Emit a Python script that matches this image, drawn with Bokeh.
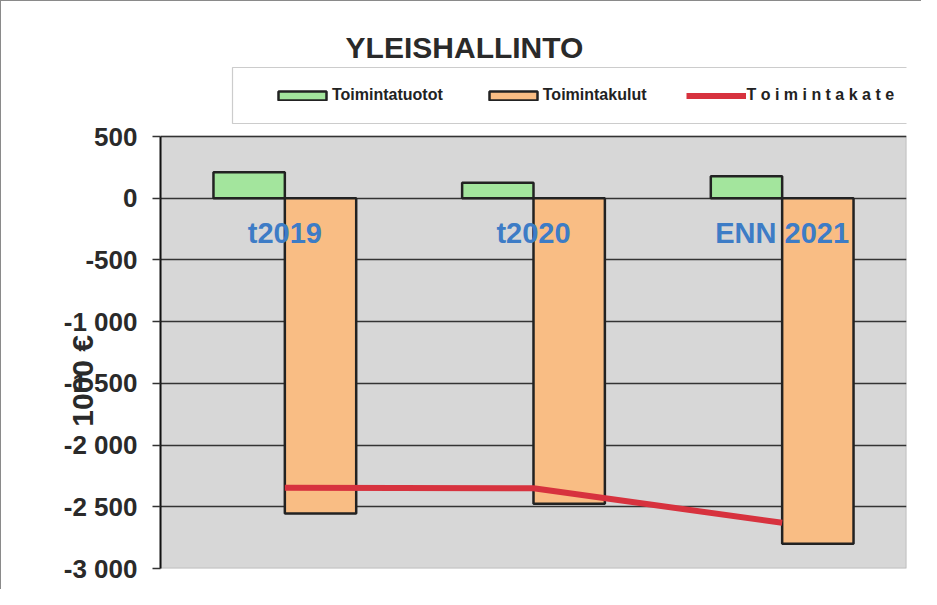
from bokeh.plotting import figure
from bokeh.models import (ColumnDataSource, FactorRange, Range1d, FixedTicker, Legend,
                          LegendItem, Label, BoxAnnotation, LinearAxis)
from bokeh.core.properties import value
from bokeh.transform import dodge
from bokeh.embed import file_html
from bokeh.resources import INLINE

# ---- data ----
categories = ["t2019", "t2020", "ENN 2021"]
toimintatuotot = [211, 125, 178]
toimintakulut = [-2555, -2475, -2800]
toimintakate = [-2345, -2350, -2630]
y_ticks = [500, 0, -500, -1000, -1500, -2000, -2500, -3000]
y_tick_labels = ["500", "0", "-500", "-1 000", "-1 500", "-2 000", "-2 500", "-3 000"]
title_text = "YLEISHALLINTO"
y_title = "1000 €"
legend_labels = ["Toimintatuotot", "Toimintakulut", "T o i m i n t a k a t e"]

FONT = "Liberation Sans"
W, H = 921, 589
OFF = 1  # canvas is shifted by the 1px outer border
# plot-area pixel geometry (canvas coordinates)
PL, PR, PT, PB = 160 - OFF, 906 - OFF, 136 - OFF, 568 - OFF
Y_MIN, Y_MAX = -3000, 500
upp = (Y_MAX - Y_MIN) / (PB - PT)          # data units per pixel
Y_TOP = Y_MAX + PT * upp                    # frame extends up to canvas top

src = ColumnDataSource(dict(cat=categories, tuotot=toimintatuotot,
                            kulut=toimintakulut, kate=toimintakate,
                            zero=[0] * len(categories)))

p = figure(width=W, height=H, x_range=FactorRange(*categories), y_range=Range1d(Y_MIN, Y_TOP),
           output_backend="svg", toolbar_location=None, title_location=None,
           min_border_left=PL, min_border_right=W - PR, min_border_top=0, min_border_bottom=H - PB,
           background_fill_color="white", border_fill_color="white")
p.outline_line_color = None
p.styles = {"border-left": "1px solid #8a8a8a", "border-top": "1px solid #8a8a8a"}

# grey plot area
p.add_layout(BoxAnnotation(top=Y_MAX, bottom=Y_MIN, fill_color="#d7d7d7", fill_alpha=1,
                           line_color="#444444", line_width=1.5, level="image"))

# axes
p.xaxis.visible = False
p.xgrid.visible = False
p.yaxis.bounds = (Y_MIN, Y_MAX)
p.yaxis.ticker = FixedTicker(ticks=y_ticks)
p.yaxis.major_label_overrides = {t: l for t, l in zip(y_ticks, y_tick_labels)}
p.yaxis.major_label_text_font = FONT
p.yaxis.major_label_text_font_style = "bold"
p.yaxis.major_label_text_font_size = "26px"
p.yaxis.major_label_text_color = "#2a2a2a"
p.yaxis.major_tick_out = 8
p.yaxis.major_tick_in = 0
p.yaxis.minor_tick_out = 0
p.yaxis.minor_tick_in = 0
p.yaxis.major_label_standoff = 15
p.yaxis.axis_line_color = "#111111"
p.yaxis.axis_line_width = 2
p.yaxis.major_tick_line_color = "#333333"
p.yaxis.major_tick_line_width = 1.5
p.ygrid.grid_line_color = "#333333"
p.ygrid.grid_line_width = 1.5

# extra axis only carrying the unit title (overlaps tick labels as in the original);
# trailing no-break spaces push the visible text down to where the original has it
p.extra_y_ranges = {"lbl": Range1d(Y_MIN, Y_TOP)}
lbl_axis = LinearAxis(y_range_name="lbl", bounds=(Y_MIN, Y_MAX), ticker=FixedTicker(ticks=[]),
                      axis_line_color=None, major_tick_out=0, major_tick_in=0,
                      minor_tick_out=0, minor_tick_in=0, major_label_text_font_size="0px",
                      axis_label=y_title + "\u00a0" * 23, axis_label_text_font=FONT,
                      axis_label_text_font_style="bold", axis_label_text_font_size="30px",
                      axis_label_text_color="#2a2a2a", axis_label_standoff=-38)
p.add_layout(lbl_axis, "left")

# bars
r_tuotot = p.vbar(x=dodge("cat", -0.1435, range=p.x_range), top="tuotot", bottom="zero", width=0.287,
                  source=src, fill_color="#a3e59d", line_color="#222222", line_width=2.5)
r_kulut = p.vbar(x=dodge("cat", 0.1435, range=p.x_range), top="zero", bottom="kulut", width=0.287,
                 source=src, fill_color="#f9bd84", line_color="#222222", line_width=2.5)
r_kate = p.line(x="cat", y="kate", source=src, line_color="#d7323e", line_width=6)

# category labels inside plot, below zero line
p.text(x="cat", y="zero", text="cat", source=src, text_font=value(FONT),
       text_color="#3d7cc6", text_font_size="29px", text_font_style="bold",
       text_align="center", text_baseline="middle", y_offset=35)

# legend box (screen units relative to frame, y from bottom)
p.add_layout(BoxAnnotation(left=232 - OFF - PL, right=W + 10 - PL, top=PB - (67 - OFF),
                           bottom=PB - (123 - OFF),
                           left_units="screen", right_units="screen", top_units="screen",
                           bottom_units="screen", fill_color="white", fill_alpha=1,
                           line_color="#555555", line_width=1.2, level="annotation"))

legend = Legend(items=[LegendItem(label=legend_labels[0], renderers=[r_tuotot]),
                       LegendItem(label=legend_labels[1], renderers=[r_kulut]),
                       LegendItem(label=legend_labels[2], renderers=[r_kate])],
                orientation="horizontal", location=(272 - OFF - PL, PB - (105 - OFF)),
                padding=0, margin=0, spacing=40, glyph_width=60, glyph_height=11, label_standoff=-3,
                label_text_font=FONT, label_text_font_style="bold", label_text_font_size="16px",
                label_text_color="#222222", border_line_alpha=0, background_fill_alpha=0,
                label_height=20)
p.add_layout(legend, "center")

# title
p.add_layout(Label(x=464 - OFF - PL, y=PB - (47 - OFF), x_units="screen", y_units="screen",
                   text=title_text, text_font=FONT, text_font_style="bold", text_font_size="30px",
                   text_color="#2a2a2a", text_align="center", text_baseline="middle"))

open("out.html", "w").write(file_html(p, INLINE))
